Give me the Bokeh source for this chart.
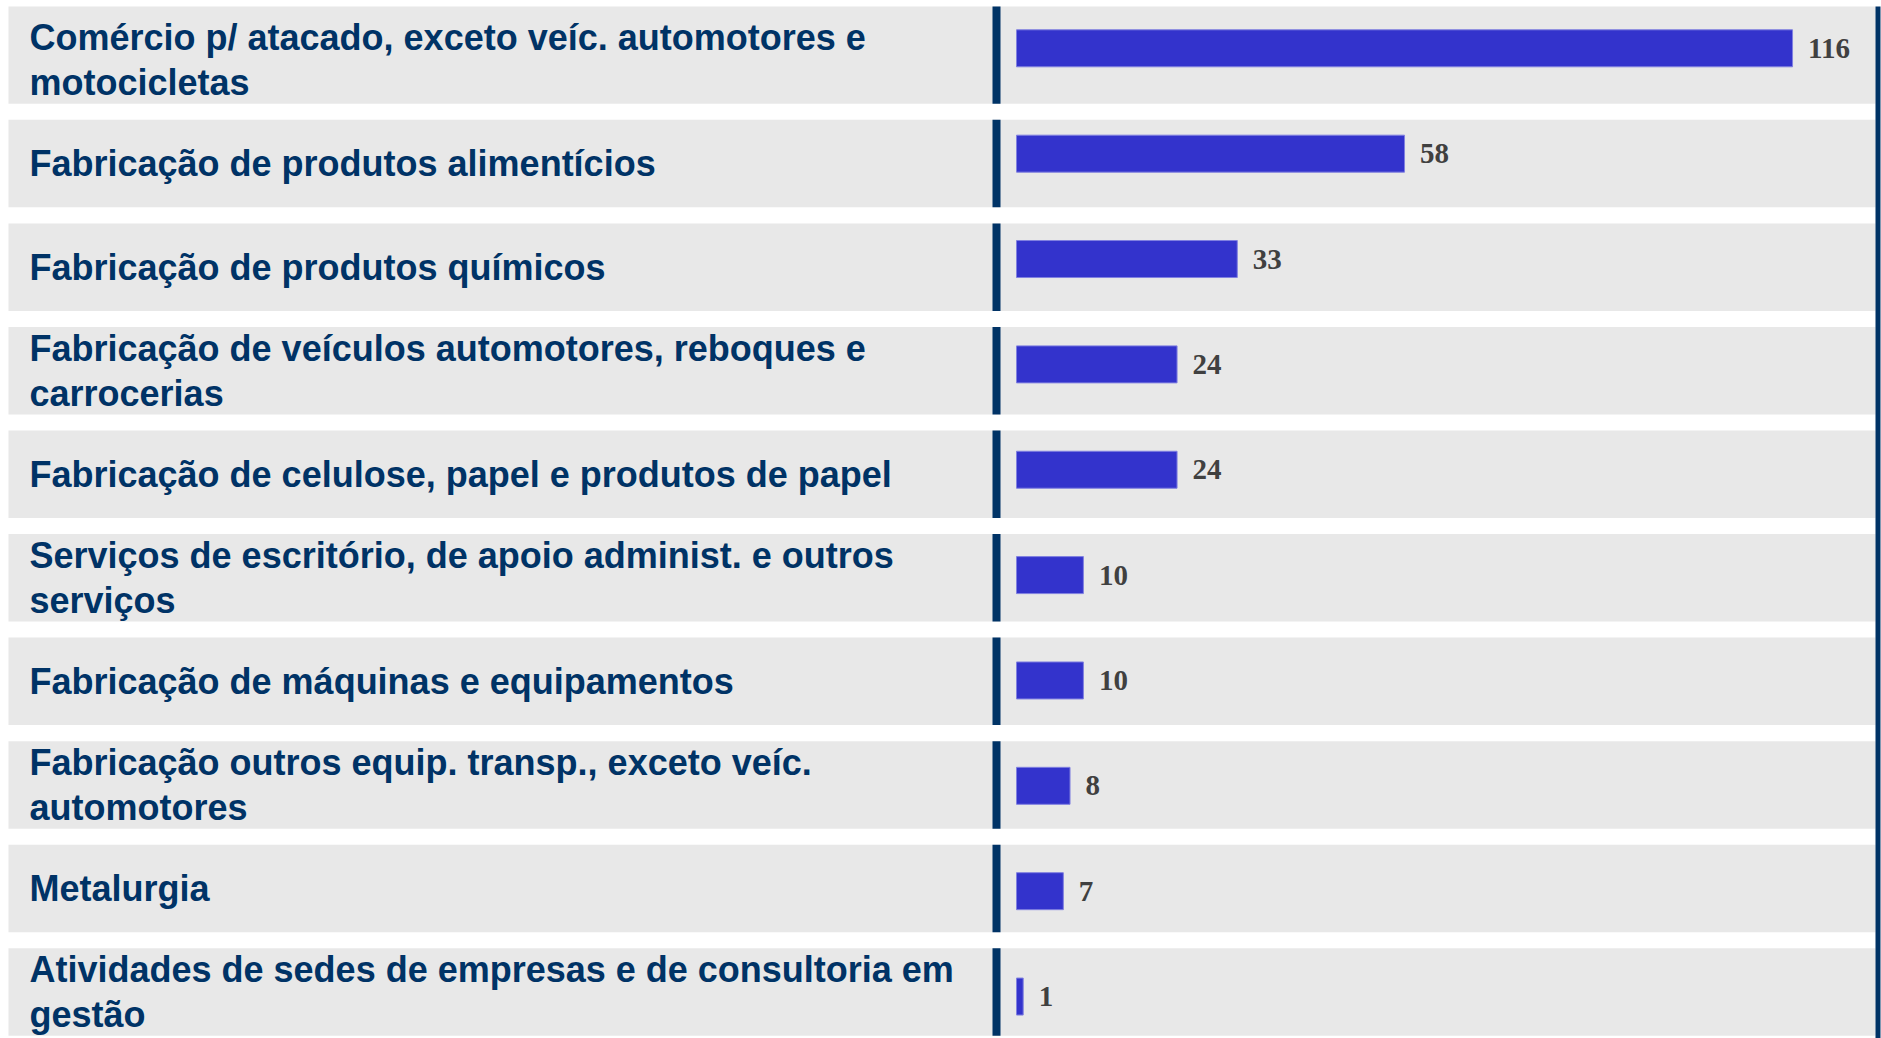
from bokeh.plotting import figure
from bokeh.models import Range1d, ColumnDataSource, LabelSet
from bokeh.core.properties import value
from bokeh.embed import file_html
from bokeh.resources import INLINE

# ---- data ----
categories = [
    "Comércio p/ atacado, exceto veíc. automotores e\nmotocicletas",
    "Fabricação de produtos alimentícios",
    "Fabricação de produtos químicos",
    "Fabricação de veículos automotores, reboques e\ncarrocerias",
    "Fabricação de celulose, papel e produtos de papel",
    "Serviços de escritório, de apoio administ. e outros\nserviços",
    "Fabricação de máquinas e equipamentos",
    "Fabricação outros equip. transp., exceto veíc.\nautomotores",
    "Metalurgia",
    "Atividades de sedes de empresas e de consultoria em\ngestão",
]
values = [116, 58, 33, 24, 24, 10, 10, 8, 7, 1]
value_labels = [str(v) for v in values]

# ---- layout constants (pixels in the plot frame) ----
W, H = 1881, 1038
BAR_X0 = 1016.0          # where value 0 sits
PX_PER_UNIT = 6.69
BAR_PITCH, BAR_Y0 = 105.36, 47.8
BAND_PITCH, BAND_Y0 = 103.55, 59.55
BAND_H_PX, BAR_H_PX = 87.5, 37.0
FIRST_TOP_PX = 6.0
BAND_LEFT = 8.0
SEP_X, SEP_W = 992.0, 8.0
RIGHT_X, RIGHT_W = 1875.0, 5.0
LABEL_X = 29

NAVY = "#003366"
GRAY = "#E8E8E8"
BAR = "#3333CC"

n = len(categories)
idx = list(range(n))

p = figure(
    width=W, height=H,
    x_range=Range1d(-BAR_X0 / PX_PER_UNIT, (W - BAR_X0) / PX_PER_UNIT),
    y_range=Range1d((H - BAR_Y0) / BAR_PITCH, -BAR_Y0 / BAR_PITCH),
    x_axis_type=None, y_axis_type=None,
    output_backend="svg", toolbar_location=None, min_border=0,
)
p.grid.visible = False
p.outline_line_color = None
p.background_fill_color = "white"
p.border_fill_color = "white"
p.extra_x_ranges = {"px": Range1d(0, W)}
p.extra_y_ranges = {"band": Range1d((H - BAND_Y0) / BAND_PITCH, -BAND_Y0 / BAND_PITCH)}

half = BAND_H_PX / BAND_PITCH / 2
tops = [i - half for i in idx]
tops[0] = (FIRST_TOP_PX - BAND_Y0) / BAND_PITCH
bottoms = [i + half for i in idx]
band_src = ColumnDataSource(dict(top=tops, bottom=bottoms,
                                 l=[BAND_LEFT] * n, r=[RIGHT_X] * n,
                                 sl=[SEP_X] * n, sr=[SEP_X + SEP_W] * n))

p.quad(left="l", right="r", top="top", bottom="bottom", source=band_src,
       fill_color=GRAY, line_color=None, x_range_name="px", y_range_name="band")
p.quad(left="sl", right="sr", top="top", bottom="bottom", source=band_src,
       fill_color=NAVY, line_color=None, x_range_name="px", y_range_name="band")
# right border line spanning full height
p.quad(left=[RIGHT_X], right=[RIGHT_X + RIGHT_W], top=[tops[0]],
       bottom=[(H - BAND_Y0) / BAND_PITCH],
       fill_color=NAVY, line_color=None, x_range_name="px", y_range_name="band")

src = ColumnDataSource(dict(idx=idx, val=values, lab=value_labels, cat=categories))

p.hbar(y="idx", left=0, right="val", height=BAR_H_PX / BAR_PITCH, source=src,
       fill_color=BAR, line_color="#8080E0", line_width=1)

p.add_layout(LabelSet(
    x="val", y="idx", text="lab", source=src, x_offset=15.5,
    text_font=value("Liberation Serif"), text_font_style="bold",
    text_font_size="29px", text_color="#404040", text_baseline="middle",
))

p.add_layout(LabelSet(
    x=LABEL_X, x_units="screen", y="idx", y_range_name="band", text="cat", source=src,
    text_font=value("Liberation Sans"), text_font_style="bold",
    text_font_size="36px", text_color=NAVY, text_baseline="middle",
    text_line_height=1.1,
))

open("out.html", "w").write(file_html(p, INLINE))
